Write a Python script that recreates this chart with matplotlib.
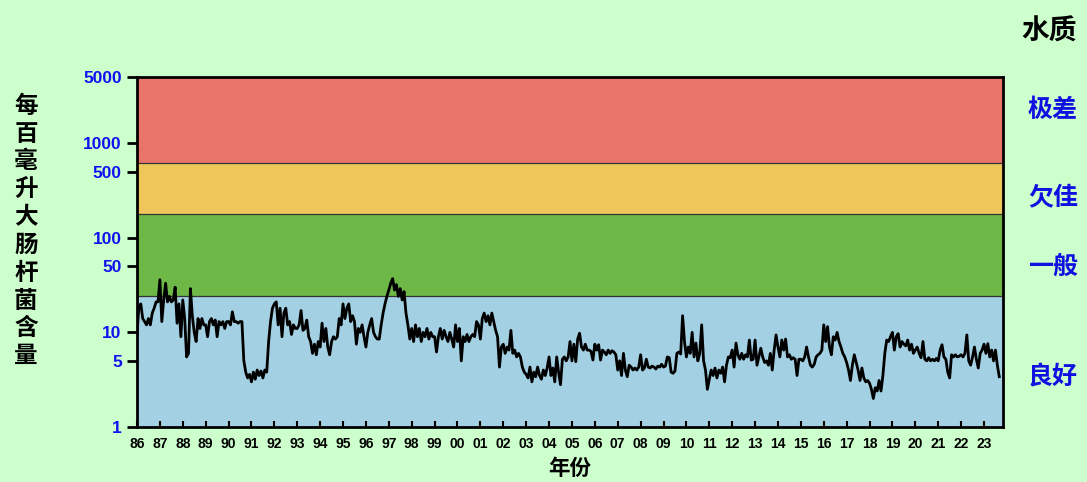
import matplotlib
matplotlib.use("Agg")
import matplotlib.pyplot as plt
import numpy as np

# ---------------- data ----------------
band_edges = [1, 24, 180, 610, 5000]
band_colors = ["#A3D0E2", "#6DB847", "#EEC65A", "#E8756A"]
band_names = ["良好", "一般", "欠佳", "极差"]

y_ticks = [1, 5, 10, 50, 100, 500, 1000, 5000]
year_labels = ["86", "87", "88", "89", "90", "91", "92", "93", "94", "95", "96", "97",
               "98", "99", "00", "01", "02", "03", "04", "05", "06", "07", "08", "09",
               "10", "11", "12", "13", "14", "15", "16", "17", "18", "19", "20", "21",
               "22", "23"]
first_year = 1986

# monthly E. coli level (counts per 100 mL), one list per year
y1986 = [9.5, 19, 20, 14, 13, 12, 14, 12, 16, 18, 21, 21]
y1987 = [36, 13, 22, 33, 21, 24, 21, 22, 30, 12.5, 20, 9]
y1988 = [22, 14, 5.5, 6, 29, 15, 10, 8, 14, 11, 14, 12]
y1989 = [12, 9, 13, 14, 12, 13.5, 9, 13, 12, 13, 11, 13]
y1990 = [13, 12, 16.5, 13, 13, 12.5, 13, 13, 5, 3.8, 3.3, 3.6]
y1991 = [3.0, 3.8, 3.2, 4.0, 3.5, 3.9, 3.3, 4.0, 3.8, 8, 13, 18]
y1992 = [20, 21, 12, 18, 9, 16, 18, 12, 13, 9.5, 12, 11]
y1993 = [11, 12, 17, 10.5, 11, 13.5, 9, 8, 6, 7.5, 5.8, 8]
y1994 = [7, 12.5, 8, 11, 7, 5.8, 8, 9, 8.5, 9, 14, 12]
y1995 = [20, 14, 18, 20, 13, 15, 13, 7.5, 11, 10, 12, 9]
y1996 = [7, 10, 12, 14, 10, 9, 8.5, 8.5, 12, 16, 20, 24]
y1997 = [28, 33, 37, 28, 32, 24, 29, 22, 27, 16, 12, 8.5]
y1998 = [11, 8, 12, 9, 11, 8, 10, 9, 11, 8.5, 10, 9]
y1999 = [9, 6.2, 9, 11, 8.5, 10.5, 9, 8, 10, 8.5, 7, 12]
y2000 = [8, 11, 5, 9, 8, 9.5, 8, 9, 9.5, 9, 13, 12]
y2001 = [8.5, 14, 16, 13, 15, 12, 16, 13, 10.5, 9, 4.3, 7]
y2002 = [7.5, 6, 7, 6.5, 10.5, 6, 6.5, 5.5, 6, 5.5, 4.3, 3.8]
y2003 = [3.6, 3.3, 4.3, 3.0, 3.8, 3.4, 4.3, 3.5, 3.2, 4.0, 3.5, 4.2]
y2004 = [5.5, 3.5, 4.2, 3.0, 5.5, 3.8, 2.8, 5.2, 5.5, 5.0, 5.5, 8]
y2005 = [5, 7.5, 4.9, 8.5, 9.8, 7, 6.5, 7.5, 6.5, 6.5, 6.3, 5.1]
y2006 = [7.5, 6.5, 7.4, 5.1, 6.5, 6.2, 5.8, 6.5, 6.0, 6.4, 6.2, 5.8]
y2007 = [4, 5.0, 3.5, 6.0, 4.0, 3.4, 4.5, 4.3, 4.0, 4.2, 4.0, 4.3]
y2008 = [5.8, 4.0, 4.2, 5.2, 4.3, 4.2, 4.4, 4.3, 4.1, 4.4, 4.3, 4.6]
y2009 = [4.3, 4.4, 5.5, 5.4, 3.8, 3.7, 3.9, 6.0, 6.2, 5.9, 15, 8]
y2010 = [5.5, 7, 6, 10, 5.5, 7.7, 5, 6, 12, 5, 4, 2.5]
y2011 = [3.2, 4.0, 3.5, 4.2, 3.3, 4.0, 3.7, 4.3, 3.0, 4.5, 5.5, 5.4]
y2012 = [6.5, 4.3, 7.7, 5.8, 5.2, 6.0, 5.2, 5.8, 5.5, 8.3, 5.1, 5.2]
y2013 = [8.3, 4.5, 5.5, 6.8, 5.5, 4.8, 5.0, 4.5, 6.0, 4.0, 6.5, 9.4]
y2014 = [7.0, 5.5, 8.3, 6.5, 8.5, 5.5, 5.8, 5.2, 5.4, 5.2, 3.5, 5.2]
y2015 = [5.2, 5.0, 5.5, 7.0, 5.5, 4.5, 4.3, 4.6, 5.5, 5.8, 6.0, 6.5]
y2016 = [12, 8, 11.5, 7, 5.8, 9, 8.3, 10, 8, 7, 6, 5.5]
y2017 = [4.8, 4.0, 3.1, 4.5, 5.8, 4.8, 4.0, 3.1, 4.2, 3.3, 3.0, 3.1]
y2018 = [2.9, 2.5, 2.0, 2.6, 2.4, 3.1, 2.4, 3.5, 6, 8.3, 8, 9]
y2019 = [10, 6.5, 9, 9.7, 7, 8, 7.5, 7.2, 8.3, 6.5, 7.5, 6]
y2020 = [6.5, 7, 6, 5.4, 8, 5.2, 5.0, 5.4, 5.0, 5.2, 5.0, 5.3]
y2021 = [5.0, 6.5, 7.4, 5.5, 5.2, 3.8, 3.3, 5.8, 5.5, 5.8, 5.5, 5.6]
y2022 = [5.8, 5.5, 6, 9.4, 5.0, 4.5, 5.5, 7, 5.2, 4.2, 6, 6.5]
y2023 = [7.5, 6, 7.6, 5.5, 6.5, 5, 6.5, 4.5, 3.4]

yearly = [y1986, y1987, y1988, y1989, y1990, y1991, y1992, y1993, y1994, y1995,
          y1996, y1997, y1998, y1999, y2000, y2001, y2002, y2003, y2004, y2005,
          y2006, y2007, y2008, y2009, y2010, y2011, y2012, y2013, y2014, y2015,
          y2016, y2017, y2018, y2019, y2020, y2021, y2022, y2023]

t, v = [], []
for k, vals in enumerate(yearly):
    for m, val in enumerate(vals):
        t.append(first_year + k + m / 12.0)
        v.append(val)

# ---------------- figure ----------------
plt.rcParams['font.family'] = ['Noto Sans CJK SC', 'DejaVu Sans']
BG = "#CCFFCC"
fig = plt.figure(figsize=(10.87, 4.82), dpi=100, facecolor=BG)
ax = fig.add_axes([137/1087, 1-427/482, (1003-137)/1087, (427-77)/482])
ax.set_facecolor(BG)
ax.set_yscale("log")
ax.set_ylim(1, 5000)
ax.set_xlim(first_year, first_year + 37.83)

for lo, hi, c in zip(band_edges[:-1], band_edges[1:], band_colors):
    ax.axhspan(lo, hi, facecolor=c, edgecolor="none", zorder=0)
for e in band_edges[1:-1]:
    ax.axhline(e, color="#333333", lw=0.9, zorder=1)

ax.plot(t, v, color="black", lw=2.0, zorder=3)

ax.set_yticks(y_ticks)
ax.set_yticklabels([str(y) for y in y_ticks])
ax.yaxis.set_minor_locator(matplotlib.ticker.NullLocator())
ax.tick_params(axis="y", direction="out", length=7, width=2, pad=4,
               labelsize=12.5, labelcolor="#1010F0")
for lab in ax.get_yticklabels():
    lab.set_fontweight("bold")
    lab.set_family(["Liberation Sans", "DejaVu Sans"])

xt = [first_year + i for i in range(len(year_labels))]
ax.set_xticks(xt)
ax.set_xticklabels(year_labels)
ax.tick_params(axis="x", direction="in", length=4, width=1.5, pad=7, labelsize=10)
for lab in ax.get_xticklabels():
    lab.set_fontweight("bold")
    lab.set_family(["Liberation Sans Narrow", "Liberation Sans", "DejaVu Sans"])

for s in ax.spines.values():
    s.set_linewidth(2)
    s.set_color("black")

fig.text(570/1087, 1-468/482, "年份", ha="center", va="center",
         fontsize=15.5, fontweight="bold", color="black")
fig.text(26/1087, 1-231/482, "\n".join("每百毫升大肠杆菌含量"), ha="center",
         va="center", fontsize=17, fontweight="bold", color="black", linespacing=1.2)

fig.text(1049/1087, 1-32/482, "水质", ha="center", va="center",
         fontsize=20, fontweight="bold", color="black")
label_pos = {"极差": 110, "欠佳": 197, "一般": 267, "良好": 377}
for name in band_names:
    fig.text(1053/1087, 1-label_pos[name]/482, name, ha="center", va="center",
             fontsize=18, fontweight="bold", color="#1010E0")

fig.savefig("out.png", dpi=100, facecolor=BG)
